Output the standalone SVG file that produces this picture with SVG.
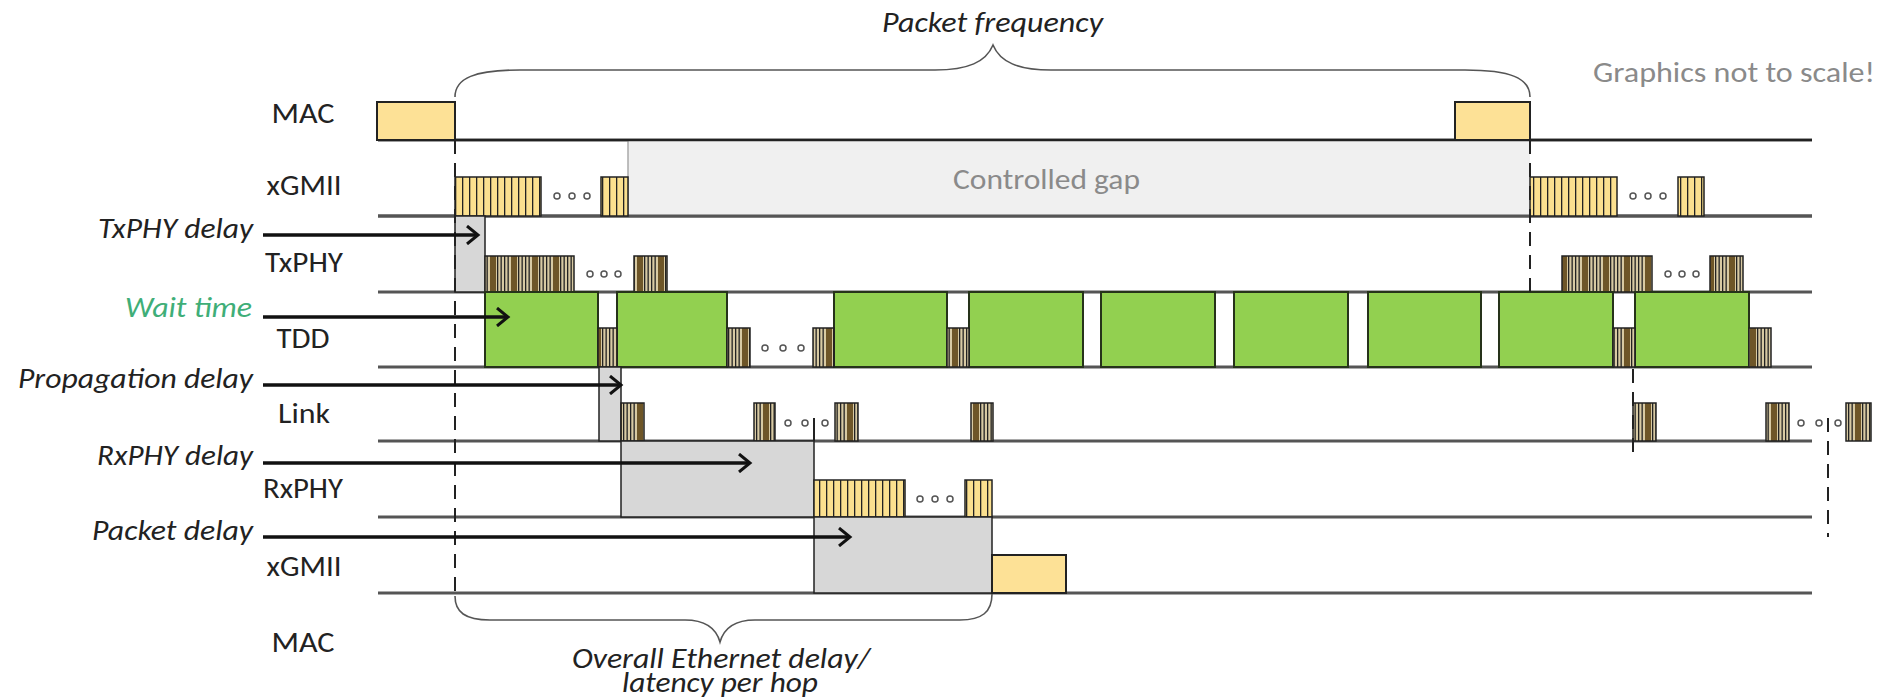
<svg xmlns="http://www.w3.org/2000/svg" width="1886" height="698" viewBox="0 0 1886 698">
<style>
text{font-family:Carlito,Lato,"Liberation Sans",sans-serif;}
.lbl{font-size:28px;fill:#222;text-anchor:middle;}
.it{font-size:29px;fill:#222;font-style:italic;}
.note{font-size:29px;fill:#8a8a8a;}
.base{stroke:#555;stroke-width:3;fill:none;}
.mac{fill:#fde196;stroke:#222;stroke-width:2;}
.yel{fill:url(#ys);stroke:#222;stroke-width:1.5;}
.brn{fill:url(#bs);stroke:#222;stroke-width:1.5;}
.grn{fill:#92d050;stroke:#26331a;stroke-width:2;}
.gry{fill:#d7d7d7;stroke:#222;stroke-width:1.5;}
.dash{stroke:#222;stroke-width:2;stroke-dasharray:14 9;fill:none;}
.dot{fill:#fff;stroke:#555;stroke-width:1.5;}
.brace{fill:none;stroke:#555;stroke-width:1.6;}
.arr{stroke:#111;stroke-width:3.5;fill:none;marker-end:url(#ah);}
</style>
<defs>
<pattern id="ys" patternUnits="userSpaceOnUse" width="7" height="10">
<rect width="7" height="10" fill="#fbe08f"/>
<rect x="0" width="1.3" height="10" fill="#222"/>
</pattern>
<pattern id="bs" patternUnits="userSpaceOnUse" width="21" height="10">
<rect width="21" height="10" fill="#d8caa3"/>
<rect x="7" width="6" height="10" fill="#6e5628"/>
<rect x="0" width="1.3" height="10" fill="#222"/>
<rect x="3.5" width="1.3" height="10" fill="#222"/>
<rect x="14" width="1.3" height="10" fill="#222"/>
<rect x="17.5" width="1.3" height="10" fill="#222"/>
</pattern>
<marker id="ah" markerWidth="16" markerHeight="20" refX="13" refY="10" orient="auto" markerUnits="userSpaceOnUse">
<path d="M2,1 L13,10 L2,19" fill="none" stroke="#111" stroke-width="3"/>
</marker>
</defs>

<g id="baselines">
<line class="base" x1="378" y1="140" x2="1812" y2="140" style="stroke:#222;stroke-width:2.5"/>
<line class="base" x1="378" y1="216" x2="1812" y2="216"/>
<line class="base" x1="378" y1="292" x2="1812" y2="292"/>
<line class="base" x1="378" y1="367" x2="1812" y2="367"/>
<line class="base" x1="378" y1="441" x2="1812" y2="441"/>
<line class="base" x1="378" y1="517" x2="1812" y2="517"/>
<line class="base" x1="378" y1="593" x2="1812" y2="593"/>
</g>

<g id="controlled-gap">
<rect x="628" y="140" width="902" height="76" fill="#f0f0f0"/>
<line x1="628" y1="140" x2="628" y2="216" stroke="#aaa" stroke-width="1.5"/>
<line x1="378" y1="140" x2="1812" y2="140" stroke="#222" stroke-width="2.5"/>
<line x1="378" y1="216" x2="1812" y2="216" stroke="#555" stroke-width="3"/>
<text class="note" x="953" y="189" textLength="187" lengthAdjust="spacingAndGlyphs">Controlled gap</text>
</g>

<g id="labels">
<text class="lbl" x="303" y="123" textLength="63" lengthAdjust="spacingAndGlyphs">MAC</text>
<text class="lbl" x="304" y="195" textLength="75" lengthAdjust="spacingAndGlyphs">xGMII</text>
<text class="lbl" x="304" y="272" textLength="78" lengthAdjust="spacingAndGlyphs">TxPHY</text>
<text class="lbl" x="303" y="348" textLength="53" lengthAdjust="spacingAndGlyphs">TDD</text>
<text class="lbl" x="304" y="423" textLength="52" lengthAdjust="spacingAndGlyphs">Link</text>
<text class="lbl" x="303" y="498" textLength="80" lengthAdjust="spacingAndGlyphs">RxPHY</text>
<text class="lbl" x="304" y="576" textLength="75" lengthAdjust="spacingAndGlyphs">xGMII</text>
<text class="lbl" x="303" y="652" textLength="63" lengthAdjust="spacingAndGlyphs">MAC</text>
</g>

<g id="delay-labels">
<text class="it" x="98" y="238" textLength="155" lengthAdjust="spacingAndGlyphs">TxPHY delay</text>
<text class="it" x="125" y="317" textLength="127" lengthAdjust="spacingAndGlyphs" style="fill:#3fae78">Wait time</text>
<text class="it" x="18" y="388" textLength="235" lengthAdjust="spacingAndGlyphs">Propagation delay</text>
<text class="it" x="97" y="465" textLength="156" lengthAdjust="spacingAndGlyphs">RxPHY delay</text>
<text class="it" x="92" y="540" textLength="161" lengthAdjust="spacingAndGlyphs">Packet delay</text>
</g>

<g id="mac-tx">
<rect class="mac" x="377" y="102" width="78" height="38"/>
<rect class="mac" x="1455" y="102" width="75" height="38"/>
</g>

<g id="xgmii-tx">
<rect class="yel" x="455" y="177" width="86" height="39"/>
<circle class="dot" cx="557" cy="196" r="3"/><circle class="dot" cx="572" cy="196" r="3"/><circle class="dot" cx="587" cy="196" r="3"/>
<rect class="yel" x="601" y="177" width="27" height="39"/>
<rect class="yel" x="1530" y="177" width="87" height="39"/>
<circle class="dot" cx="1633" cy="196" r="3"/><circle class="dot" cx="1648" cy="196" r="3"/><circle class="dot" cx="1663" cy="196" r="3"/>
<rect class="yel" x="1678" y="177" width="26" height="39"/>
</g>

<g id="txphy-delay">
<rect class="gry" x="455" y="216" width="30" height="76"/>
</g>

<g id="txphy">
<rect class="brn" x="485" y="256" width="89" height="36"/>
<circle class="dot" cx="590" cy="274" r="3"/><circle class="dot" cx="604" cy="274" r="3"/><circle class="dot" cx="618" cy="274" r="3"/>
<rect class="brn" x="634" y="256" width="33" height="36"/>
<rect class="brn" x="1562" y="256" width="90" height="36"/>
<circle class="dot" cx="1668" cy="274" r="3"/><circle class="dot" cx="1682" cy="274" r="3"/><circle class="dot" cx="1696" cy="274" r="3"/>
<rect class="brn" x="1710" y="256" width="33" height="36"/>
</g>

<g id="tdd">
<rect class="grn" x="485" y="292" width="113" height="75"/>
<rect class="grn" x="617" y="292" width="110" height="75"/>
<rect class="grn" x="834" y="292" width="113" height="75"/>
<rect class="grn" x="969" y="292" width="114" height="75"/>
<rect class="grn" x="1101" y="292" width="114" height="75"/>
<rect class="grn" x="1234" y="292" width="114" height="75"/>
<rect class="grn" x="1368" y="292" width="113" height="75"/>
<rect class="grn" x="1499" y="292" width="114" height="75"/>
<rect class="grn" x="1635" y="292" width="114" height="75"/>
<rect class="brn" x="598" y="328" width="19" height="39"/>
<rect class="brn" x="727" y="328" width="23" height="39"/>
<circle class="dot" cx="765" cy="348" r="3"/><circle class="dot" cx="783" cy="348" r="3"/><circle class="dot" cx="801" cy="348" r="3"/>
<rect class="brn" x="813" y="328" width="21" height="39"/>
<rect class="brn" x="947" y="328" width="22" height="39"/>
<rect class="brn" x="1613" y="328" width="22" height="39"/>
<rect class="brn" x="1749" y="328" width="22" height="39"/>
</g>

<g id="propagation-delay">
<rect class="gry" x="599" y="367" width="22" height="74"/>
</g>

<g id="link">
<rect class="brn" x="621" y="403" width="23" height="38"/>
<rect class="brn" x="754" y="403" width="21" height="38"/>
<circle class="dot" cx="788" cy="423" r="3"/><circle class="dot" cx="805" cy="423" r="3"/><circle class="dot" cx="825" cy="423" r="3"/>
<rect class="brn" x="835" y="403" width="23" height="38"/>
<rect class="brn" x="971" y="403" width="22" height="38"/>
<rect class="brn" x="1633" y="403" width="23" height="38"/>
<rect class="brn" x="1766" y="403" width="23" height="38"/>
<circle class="dot" cx="1801" cy="423" r="3"/><circle class="dot" cx="1819" cy="423" r="3"/><circle class="dot" cx="1838" cy="423" r="3"/>
<rect class="brn" x="1846" y="403" width="25" height="38"/>
</g>

<g id="rxphy-delay">
<rect class="gry" x="621" y="441" width="193" height="76"/>
<line x1="814" y1="418" x2="814" y2="441" stroke="#222" stroke-width="2"/>
</g>

<g id="rxphy">
<rect class="yel" x="814" y="480" width="91" height="37"/>
<circle class="dot" cx="920" cy="499" r="3"/><circle class="dot" cx="935" cy="499" r="3"/><circle class="dot" cx="950" cy="499" r="3"/>
<rect class="yel" x="965" y="480" width="27" height="37"/>
</g>

<g id="packet-delay">
<rect class="gry" x="814" y="517" width="178" height="76"/>
</g>

<g id="xgmii-rx">
<rect class="mac" x="992" y="555" width="74" height="38"/>
</g>

<g id="markers">
<line class="dash" x1="455" y1="140" x2="455" y2="595"/>
<line class="dash" x1="1530" y1="140" x2="1530" y2="292"/>
<line class="dash" x1="1633" y1="369" x2="1633" y2="452"/>
<line class="dash" x1="1828" y1="418" x2="1828" y2="537"/>
</g>

<g id="packet-frequency">
<path class="brace" d="M455,97 C455,78 475,70 520,70 L935,70 C968,70 986,62 993,45 C1000,62 1018,70 1051,70 L1465,70 C1510,70 1530,78 1530,97"/>
<text class="it" x="882" y="32" textLength="221" lengthAdjust="spacingAndGlyphs">Packet frequency</text>
</g>

<g id="overall-delay">
<path class="brace" d="M455,596 C455,612 465,620 490,620 L685,620 C706,620 716,628 720,642 C724,628 734,620 755,620 L960,620 C982,620 992,612 992,594"/>
<text class="it" x="572" y="668" textLength="298" lengthAdjust="spacingAndGlyphs" style="font-size:28px">Overall Ethernet delay/</text>
<text class="it" x="622" y="692" textLength="196" lengthAdjust="spacingAndGlyphs" style="font-size:28px">latency per hop</text>
</g>

<g id="note">
<text class="note" x="1593" y="82" textLength="282" lengthAdjust="spacingAndGlyphs">Graphics not to scale!</text>
</g>

<g id="connectors">
<line class="arr" x1="263" y1="235" x2="478" y2="235"/>
<line class="arr" x1="263" y1="317" x2="508" y2="317"/>
<line class="arr" x1="263" y1="385" x2="621" y2="385"/>
<line class="arr" x1="263" y1="463" x2="750" y2="463"/>
<line class="arr" x1="263" y1="537" x2="850" y2="537"/>
</g>
</svg>
